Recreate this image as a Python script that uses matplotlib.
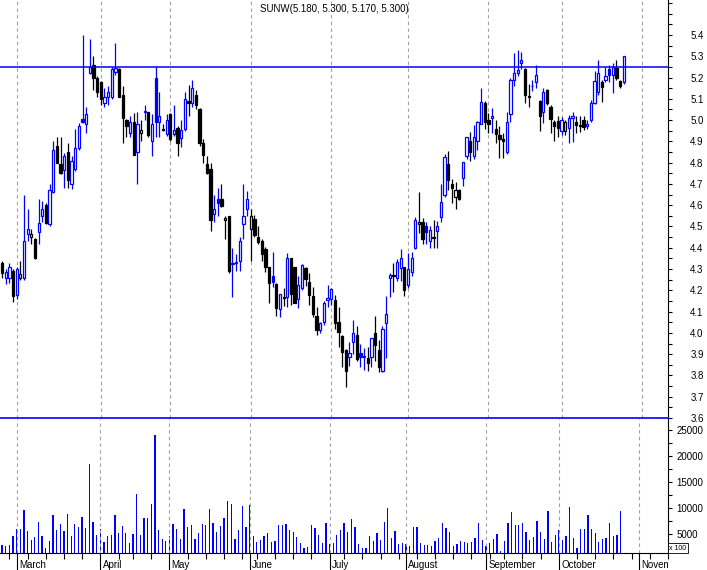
import numpy as np
import pandas as pd
import matplotlib
matplotlib.use('Agg')
import matplotlib.pyplot as plt
from matplotlib.ticker import MultipleLocator, NullFormatter
from matplotlib.transforms import Bbox, TransformedBbox, blended_transform_factory

plt.rcParams['font.family'] = ['Liberation Sans', 'DejaVu Sans']

# daily bars, Feb 23 .. Oct 2006
opens = [4.33, 4.257, 4.26, 4.29, 4.18, 4.26, 4.26, 4.465, 4.452, 4.44,
         4.475, 4.55, 4.60, 4.51, 4.66, 4.88, 4.795, 4.765, 4.85, 4.70,
         4.77, 4.87, 5.004, 4.98, 5.22, 5.26, 5.20, 5.18, 5.08, 5.11,
         5.11, 5.225, 5.24, 5.12, 5.00, 4.94, 4.99, 4.85, 4.94, 5.04,
         5.04, 4.90, 5.20, 4.99, 4.96, 4.935, 5.03, 4.935, 4.965, 4.915,
         4.96, 5.09, 5.08, 5.12, 5.05, 4.89, 4.795, 4.77, 4.56, 4.63,
         4.63, 4.53, 4.55, 4.325, 4.33, 4.34, 4.51, 4.58, 4.49, 4.535,
         4.45, 4.43, 4.395, 4.31, 4.265, 4.23, 4.11, 4.17, 4.17, 4.35,
         4.31, 4.16, 4.21, 4.305, 4.24, 4.175, 4.08, 4.015, 4.05, 4.155,
         4.16, 4.155, 4.05, 3.985, 3.92, 3.885, 3.955, 3.99, 3.905, 3.885,
         3.88, 3.885, 4.00, 3.92, 3.82, 4.045, 4.256, 4.27, 4.26, 4.305,
         4.31, 4.225, 4.285, 4.40, 4.51, 4.52, 4.50, 4.43, 4.45, 4.48,
         4.545, 4.65, 4.795, 4.70, 4.64, 4.67, 4.73, 4.83, 4.90, 4.83,
         4.90, 4.98, 5.08, 5.00, 5.01, 4.96, 4.93, 4.91, 4.85, 5.03,
         5.19, 5.22, 5.27, 5.24, 5.107, 5.158, 5.18, 5.09, 5.04, 5.14,
         5.06, 4.99, 4.995, 4.95, 4.95, 4.965, 5.008, 4.99, 4.977, 5.00,
         4.97, 5.00, 5.08, 5.13, 5.18, 5.19, 5.24, 5.213, 5.247, 5.185,
         5.18]
highs = [4.34, 4.30, 4.33, 4.30, 4.31, 4.34, 4.65, 4.58, 4.49, 4.445,
         4.63, 4.62, 4.61, 4.70, 4.90, 4.92, 4.92, 4.845, 4.89, 4.83,
         4.96, 4.985, 5.40, 5.06, 5.38, 5.30, 5.205, 5.185, 5.15, 5.16,
         5.25, 5.36, 5.245, 5.16, 5.005, 5.02, 5.035, 5.04, 5.00, 5.07,
         5.04, 5.03, 5.255, 5.13, 4.98, 5.03, 5.035, 5.07, 4.97, 5.00,
         5.13, 5.165, 5.188, 5.14, 5.055, 4.91, 4.83, 4.80, 4.65, 4.68,
         4.70, 4.55, 4.55, 4.40, 4.37, 4.45, 4.70, 4.665, 4.58, 4.555,
         4.50, 4.44, 4.405, 4.31, 4.38, 4.235, 4.185, 4.21, 4.375, 4.35,
         4.31, 4.265, 4.325, 4.31, 4.28, 4.215, 4.12, 4.05, 4.15, 4.225,
         4.21, 4.18, 4.12, 3.99, 3.925, 3.955, 4.06, 4.03, 3.95, 3.93,
         3.935, 3.975, 4.08, 3.965, 4.03, 4.173, 4.28, 4.33, 4.345, 4.395,
         4.31, 4.375, 4.38, 4.545, 4.66, 4.54, 4.52, 4.50, 4.53, 4.525,
         4.70, 4.84, 4.855, 4.725, 4.71, 4.675, 4.805, 4.92, 4.945, 4.975,
         4.995, 5.15, 5.09, 5.035, 5.055, 5.00, 4.97, 4.94, 5.04, 5.20,
         5.317, 5.33, 5.32, 5.245, 5.17, 5.19, 5.26, 5.095, 5.15, 5.145,
         5.07, 5.00, 5.02, 5.015, 5.00, 5.025, 5.04, 5.02, 5.02, 5.02,
         5.00, 5.095, 5.23, 5.28, 5.19, 5.25, 5.26, 5.27, 5.28, 5.19,
         5.30]
lows = [4.26, 4.23, 4.235, 4.145, 4.16, 4.25, 4.25, 4.43, 4.42, 4.345,
        4.42, 4.52, 4.51, 4.50, 4.655, 4.80, 4.745, 4.68, 4.68, 4.675,
        4.76, 4.86, 4.985, 4.94, 5.215, 5.14, 5.11, 5.07, 5.06, 5.07,
        5.10, 5.21, 5.11, 4.89, 4.92, 4.92, 4.835, 4.70, 4.90, 5.00,
        4.92, 4.83, 4.92, 4.92, 4.95, 4.925, 4.90, 4.925, 4.83, 4.875,
        4.95, 5.02, 5.06, 5.05, 4.88, 4.80, 4.745, 4.48, 4.52, 4.55,
        4.59, 4.44, 4.28, 4.17, 4.29, 4.29, 4.44, 4.55, 4.34, 4.45,
        4.42, 4.34, 4.285, 4.14, 4.215, 4.08, 4.075, 4.125, 4.12, 4.13,
        4.14, 4.115, 4.20, 4.22, 4.13, 4.075, 3.99, 4.00, 4.035, 4.12,
        4.13, 4.02, 3.935, 3.84, 3.744, 3.845, 3.90, 3.87, 3.84, 3.825,
        3.82, 3.84, 3.87, 3.815, 3.815, 3.88, 4.17, 4.19, 4.245, 4.245,
        4.175, 4.21, 4.265, 4.395, 4.47, 4.42, 4.42, 4.40, 4.40, 4.40,
        4.52, 4.64, 4.67, 4.61, 4.58, 4.625, 4.69, 4.815, 4.81, 4.815,
        4.86, 4.98, 4.96, 4.94, 4.94, 4.89, 4.82, 4.82, 4.84, 4.99,
        5.16, 5.205, 5.24, 5.08, 5.06, 5.135, 5.15, 4.95, 4.985, 5.07,
        4.94, 4.90, 4.92, 4.93, 4.93, 4.89, 4.895, 4.94, 4.945, 4.955,
        4.96, 4.99, 5.075, 5.12, 5.085, 5.18, 5.18, 5.125, 5.19, 5.15,
        5.17]
closes = [4.28, 4.285, 4.31, 4.175, 4.30, 4.275, 4.43, 4.49, 4.465, 4.35,
          4.515, 4.58, 4.515, 4.67, 4.86, 4.80, 4.75, 4.83, 4.72, 4.81,
          4.87, 4.97, 4.99, 5.03, 5.25, 5.20, 5.13, 5.10, 5.11, 5.13,
          5.24, 5.245, 5.11, 5.01, 4.97, 4.99, 4.835, 4.98, 4.955, 5.045,
          4.93, 4.98, 4.99, 5.02, 4.955, 5.00, 4.91, 4.955, 4.89, 4.955,
          5.10, 5.08, 5.15, 5.07, 4.89, 4.835, 4.75, 4.53, 4.58, 4.61,
          4.595, 4.54, 4.29, 4.33, 4.335, 4.43, 4.55, 4.63, 4.55, 4.46,
          4.425, 4.37, 4.31, 4.235, 4.24, 4.115, 4.183, 4.165, 4.35, 4.185,
          4.14, 4.225, 4.32, 4.255, 4.18, 4.09, 4.015, 4.045, 4.14, 4.165,
          4.205, 4.045, 4.005, 3.91, 3.82, 3.905, 4.00, 3.875, 3.885, 3.89,
          3.857, 3.975, 3.945, 3.84, 4.02, 4.09, 4.27, 4.265, 4.335, 4.35,
          4.20, 4.30, 4.35, 4.53, 4.52, 4.44, 4.475, 4.483, 4.448, 4.50,
          4.615, 4.825, 4.72, 4.68, 4.67, 4.63, 4.805, 4.92, 4.85, 4.92,
          4.99, 5.085, 4.99, 4.98, 5.02, 4.933, 4.91, 4.90, 4.99, 5.19,
          5.22, 5.235, 5.28, 5.12, 5.115, 5.16, 5.21, 5.02, 5.133, 5.08,
          5.005, 4.97, 4.963, 5.00, 4.99, 5.01, 5.02, 4.978, 4.97, 4.968,
          4.98, 5.08, 5.185, 5.22, 5.155, 5.205, 5.213, 5.25, 5.20, 5.16,
          5.30]
volume = [2950, 2750, 2950, 4680, 6030, 5900, 9680, 5640, 3780, 4360,
          7240, 4680, 2370, 3590, 8720, 5830, 6990, 5640, 8910, 4550,
          6990, 6410, 8330, 6090, 18530, 7370, 4870, 6030, 3530, 4550,
          4870, 8720, 5260, 6600, 5260, 3330, 5060, 12760, 4870, 8140,
          8140, 10830, 24100, 5830, 4100, 3720, 4680, 6990, 6030, 4100,
          9870, 6410, 6800, 4100, 5260, 6990, 6800, 9870, 7180, 5450,
          6600, 8140, 11410, 10830, 4100, 5830, 10450, 6410, 10640, 4680,
          3530, 3910, 4680, 5260, 3530, 3720, 6800, 6800, 6990, 5830,
          5450, 4490, 3330, 2370, 2560, 6800, 6220, 4870, 3330, 7180,
          3140, 3330, 4870, 5830, 7180, 5450, 7950, 6410, 3140, 2370,
          2370, 4680, 3720, 5260, 3910, 7370, 10060, 4300, 5640, 3140,
          3330, 3000, 2750, 6410, 6410, 3330, 2950, 2950, 2750, 3720,
          4300, 7180, 6220, 5450, 2750, 3140, 3720, 3530, 3330, 3530,
          4300, 7180, 3910, 2750, 3330, 4100, 5060, 1800, 3720, 7180,
          9290, 6800, 6800, 7180, 5450, 3910, 4490, 7560, 5450, 4100,
          9490, 3530, 4870, 5830, 3910, 4680, 10260, 4300, 2370, 6030,
          6030, 8720, 6030, 5260, 3530, 4100, 4300, 7180, 4680, 4870,
          9490]

month_names = ['March', 'April', 'May', 'June', 'July', 'August',
               'September', 'October', 'November']
month_start = [4, 27, 46, 68, 90, 111, 133, 153, 175]
price_labels = [round(3.6 + 0.1 * k, 1) for k in range(19)]
vol_labels = [5000, 10000, 15000, 20000, 25000]
resistance = 5.25
title = 'SUNW(5.180, 5.300, 5.170, 5.300)'

BLUE = '#0000ff'
W, H = 707, 570

# trading calendar, only used for the weekly ticks under the volume panel
hol = pd.to_datetime(['2006-04-14', '2006-05-29', '2006-07-04', '2006-09-04'])
days = pd.bdate_range('2006-02-23', '2006-11-15')
days = days[~days.isin(hol)]
week_start = [i for i in range(1, len(days)) if days[i].weekday() < days[i - 1].weekday()]

fig = plt.figure(figsize=(W / 100, H / 100), dpi=100)
ax = fig.add_axes([0, 152 / H, 668 / W, 418 / H])
axv = fig.add_axes([0, 17 / H, 668 / W, 134 / H])

o = np.array(opens)
c = np.array(closes)
hi = np.array(highs)
lo = np.array(lows)
idx = np.arange(len(c))
prev = np.r_[o[0], c[:-1]]
col = np.where(c >= prev, BLUE, 'black')
hollow = c > o
face = np.where(hollow, 'white', col)

ax.vlines(idx, lo, hi, colors=col, lw=0.9, zorder=2)
ax.bar(idx, np.abs(c - o), bottom=np.minimum(o, c), width=0.62,
       color=face, edgecolor=col, linewidth=0.9, zorder=3)

ax.axhline(resistance, color=BLUE, lw=1.1, zorder=4)
ax.axhline(3.6, color=BLUE, lw=1.2, zorder=4, clip_on=False)

axv.bar(idx, volume, width=0.35, color=BLUE, linewidth=0)

xl = (-2.07 / 3.657, (668 - 2.07) / 3.657)
for a in (ax, axv):
    a.set_xlim(*xl)
    for m in month_start:
        a.axvline(m, color='#a0a0a0', lw=0.8, ls=(0, (3, 3)), zorder=1)
    a.spines['top'].set_visible(False)
    a.spines['left'].set_visible(False)
    a.spines['right'].set_linewidth(0.8)
    a.yaxis.tick_right()

ax.set_ylim(3.6, 3.6 + 418 / 212.8)
ax.spines['bottom'].set_visible(False)
ax.set_xticks([])
ax.set_yticks(price_labels)
ax.set_yticklabels([f'{v:.1f}' for v in price_labels])
ax.yaxis.set_minor_locator(MultipleLocator(0.05))
ax.tick_params(axis='y', which='both', direction='out', length=3, width=0.8,
               pad=13, labelsize=7)

axv.set_ylim(1350, 27100)
axv.set_yticks(vol_labels)
axv.set_yticklabels([str(v) for v in vol_labels])
axv.yaxis.set_minor_locator(MultipleLocator(2500))
axv.tick_params(axis='y', which='both', direction='out', length=3, width=0.8,
                pad=3, labelsize=7)
axv.spines['bottom'].set_linewidth(0.8)
axv.set_xticks(month_start)
axv.set_xticks(week_start, minor=True)
axv.xaxis.set_major_formatter(NullFormatter())
axv.tick_params(axis='x', which='major', direction='out', length=12, width=0.8)
axv.tick_params(axis='x', which='minor', direction='out', length=4, width=0.8)

clip = TransformedBbox(Bbox([[0, 0], [668 / W, 1]]), fig.transFigure)
tr = blended_transform_factory(axv.transData, axv.transAxes)
for m, name in zip(month_start, month_names):
    t = axv.text(m + 0.6, -12 / 134, name, transform=tr, ha='left', va='center',
                 fontsize=7)
    t.set_clip_box(clip)
    t.set_clip_on(True)

fig.text(678 / W, 22 / H, 'x 100', fontsize=5, ha='center', va='center',
         bbox=dict(boxstyle='square,pad=0.2', fc='white', ec='black', lw=0.6))

ax.text(0.5, 1 - 9 / 418, title, transform=ax.transAxes, ha='center',
        va='center', fontsize=7)

fig.savefig('out.png', dpi=100)
